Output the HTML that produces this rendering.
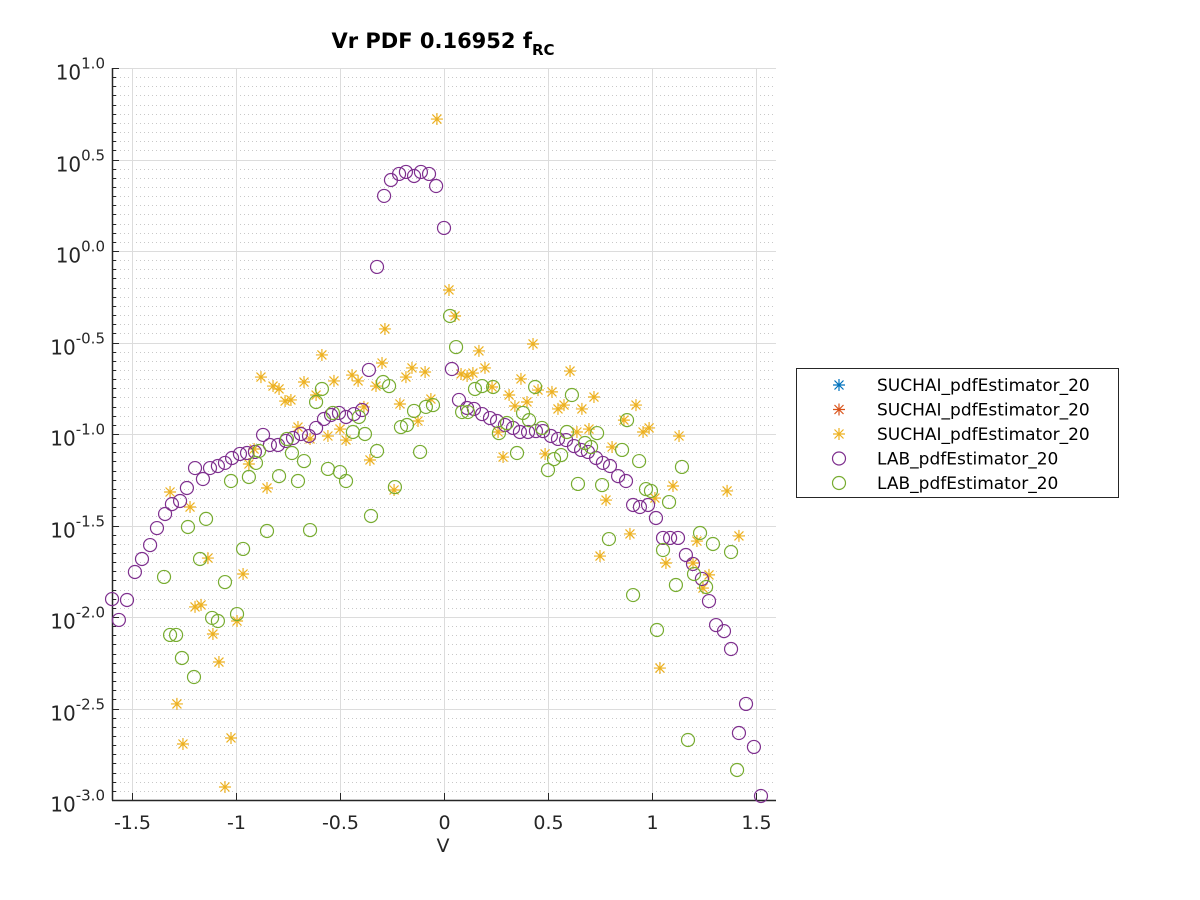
<!DOCTYPE html>
<html><head><meta charset="utf-8"><style>
html,body{margin:0;padding:0;background:#fff;}
svg{display:block;font-family:"DejaVu Sans","Liberation Sans",sans-serif;}
</style></head><body>
<svg id="chart" width="1200" height="900" viewBox="0 0 1200 900" xmlns="http://www.w3.org/2000/svg">
<rect x="0" y="0" width="1200" height="900" fill="#fff"/>
<g id="grid"></g>
<g id="axes"></g>
<g id="marks"></g>
<text x="443" y="48" text-anchor="middle" font-weight="bold" font-size="21" fill="#000">Vr PDF 0.16952 f<tspan dy="7" font-size="15">RC</tspan></text>
<text x="443" y="852" text-anchor="middle" font-size="19" fill="#262626">V</text>
<g>
<rect x="796.5" y="368.5" width="322" height="129" fill="#fff" stroke="#262626" stroke-width="1"/>
<g id="legend-items"></g>
</g>
</svg>
<script>
// ---- data ----
const xTicks = [-1.5, -1, -0.5, 0, 0.5, 1, 1.5];
const xTickLabels = ["-1.5", "-1", "-0.5", "0", "0.5", "1", "1.5"];
const yTicksLog = [1, 0.5, 0, -0.5, -1, -1.5, -2, -2.5, -3];
const yTickLabels = ["1.0", "0.5", "0.0", "-0.5", "-1.0", "-1.5", "-2.0", "-2.5", "-3.0"];
const legendLabels = ["SUCHAI_pdfEstimator_20","SUCHAI_pdfEstimator_20","SUCHAI_pdfEstimator_20","LAB_pdfEstimator_20","LAB_pdfEstimator_20"];

const purpleX = [-1.596,-1.563,-1.524,-1.486,-1.452,-1.413,-1.380,-1.341,-1.308,-1.269,-1.236,-1.197,-1.159,-1.125,-1.087,-1.053,-1.019,-0.981,-0.947,-0.909,-0.870,-0.837,-0.798,-0.760,-0.726,-0.688,-0.649,-0.615,-0.577,-0.543,-0.505,-0.471,-0.433,-0.394,-0.361,-0.322,-0.288,-0.255,-0.216,-0.183,-0.144,-0.111,-0.072,-0.038,0,0.038,0.072,0.111,0.144,0.183,0.221,0.255,0.293,0.332,0.365,0.404,0.442,0.476,0.514,0.548,0.587,0.625,0.659,0.692,0.731,0.764,0.798,0.837,0.875,0.909,0.942,0.981,1.019,1.053,1.087,1.125,1.163,1.197,1.240,1.274,1.308,1.346,1.380,1.418,1.452,1.490,1.524];
const purpleLogY = [-1.902,-2.016,-1.907,-1.754,-1.683,-1.607,-1.514,-1.437,-1.383,-1.366,-1.295,-1.186,-1.246,-1.186,-1.175,-1.158,-1.131,-1.109,-1.104,-1.098,-1.005,-1.060,-1.060,-1.038,-1.022,-1.000,-1.011,-0.967,-0.918,-0.896,-0.885,-0.907,-0.891,-0.869,-0.650,-0.087,0.301,0.388,0.421,0.432,0.410,0.432,0.421,0.355,0.126,-0.645,-0.814,-0.858,-0.863,-0.891,-0.913,-0.929,-0.951,-0.967,-0.989,-0.989,-0.984,-0.984,-1.011,-1.027,-1.033,-1.066,-1.087,-1.098,-1.131,-1.158,-1.175,-1.230,-1.257,-1.388,-1.399,-1.388,-1.459,-1.568,-1.568,-1.568,-1.661,-1.710,-1.792,-1.913,-2.044,-2.077,-2.175,-2.634,-2.475,-2.710,-2.978];

const greenX = [-1.346,-1.317,-1.288,-1.260,-1.231,-1.202,-1.173,-1.144,-1.115,-1.087,-1.053,-1.024,-0.995,-0.966,-0.938,-0.904,-0.889,-0.851,-0.793,-0.755,-0.731,-0.702,-0.673,-0.644,-0.615,-0.587,-0.558,-0.534,-0.500,-0.471,-0.438,-0.409,-0.380,-0.351,-0.322,-0.293,-0.264,-0.236,-0.207,-0.178,-0.144,-0.115,-0.087,-0.053,0.029,0.058,0.087,0.115,0.149,0.183,0.236,0.264,0.303,0.351,0.380,0.409,0.438,0.471,0.500,0.529,0.563,0.591,0.615,0.644,0.678,0.707,0.736,0.760,0.793,0.856,0.880,0.909,0.938,0.971,0.995,1.024,1.053,1.082,1.115,1.144,1.173,1.202,1.231,1.260,1.293,1.380,1.409];
const greenLogY = [-1.781,-2.098,-2.098,-2.224,-1.508,-2.328,-1.683,-1.464,-2.005,-2.022,-1.809,-1.257,-1.984,-1.628,-1.235,-1.158,-1.093,-1.530,-1.230,-1.027,-1.104,-1.257,-1.148,-1.525,-0.825,-0.754,-1.191,-0.885,-1.208,-1.257,-0.989,-0.907,-1.000,-1.448,-1.093,-0.716,-0.738,-1.290,-0.962,-0.951,-0.874,-1.098,-0.852,-0.842,-0.355,-0.525,-0.880,-0.880,-0.754,-0.738,-0.743,-0.995,-0.940,-1.104,-0.885,-0.924,-0.743,-0.967,-1.197,-1.137,-1.115,-0.989,-0.787,-1.273,-1.049,-1.071,-0.995,-1.279,-1.574,-1.087,-0.924,-1.880,-1.148,-1.301,-1.311,-2.071,-1.634,-1.372,-1.825,-1.180,-2.672,-1.765,-1.541,-1.836,-1.601,-1.645,-2.836];

const yellowX = [-0.034,0.024,0.053,-0.284,-0.587,0.428,0.168,0.197,0.606,0.082,0.139,0.111,0.370,0.231,0.313,0.452,0.519,0.721,0.341,0.399,0.548,0.577,0.663,0.923,0.865,0.957,0.986,1.130,0.639,0.697,0.260,0.284,0.486,0.808,0.779,0.894,1.014,1.101,1.361,1.418,1.216,0.750,1.067,1.197,1.274,1.245,1.038,-0.880,-0.822,-0.793,-0.673,-0.764,-0.736,-0.615,-0.529,-0.442,-0.413,-0.298,-0.327,-0.154,-0.183,-0.091,-0.063,-0.212,-0.385,-0.702,-0.644,-0.558,-0.500,-0.471,-0.125,-0.356,-0.913,-0.938,-0.851,-1.317,-1.221,-0.240,-1.135,-0.966,-1.197,-1.168,-0.995,-1.111,-1.082,-1.284,-1.255,-1.024,-1.053];
const yellowLogY = [0.721,-0.213,-0.355,-0.426,-0.568,-0.508,-0.546,-0.639,-0.656,-0.672,-0.667,-0.683,-0.699,-0.743,-0.787,-0.760,-0.770,-0.798,-0.847,-0.825,-0.863,-0.842,-0.863,-0.842,-0.924,-0.989,-0.967,-1.011,-0.989,-0.973,-0.989,-1.126,-1.109,-1.071,-1.361,-1.546,-1.350,-1.284,-1.311,-1.557,-1.585,-1.667,-1.705,-1.705,-1.770,-1.842,-2.279,-0.689,-0.738,-0.754,-0.716,-0.820,-0.814,-0.787,-0.710,-0.678,-0.710,-0.612,-0.738,-0.639,-0.689,-0.661,-0.809,-0.836,-0.852,-0.962,-1.027,-1.011,-0.973,-1.033,-0.929,-1.142,-1.082,-1.164,-1.295,-1.317,-1.399,-1.306,-1.678,-1.765,-1.945,-1.934,-2.022,-2.093,-2.246,-2.475,-2.694,-2.661,-2.929];

// ---- axis functions ----
const L = 112, R = 776, T = 68, B = 800;
const xMin = -1.6, xMax = 1.6, yMin = -3, yMax = 1;
function xs(v){ return 444 + v * 208; }
function ys(lg){ return B - (lg - yMin) / (yMax - yMin) * (B - T); }

const NS = "http://www.w3.org/2000/svg";
function mk(tag, parent){ const e = document.createElementNS(NS, tag); parent.appendChild(e); return e; }
const grid = document.getElementById('grid');
const axes = document.getElementById('axes');
const marks = document.getElementById('marks');

for (let k = 0; k <= 80; k++) {
  const lg = yMin + k * 0.05;
  if (k % 10 === 0) continue;
  const y = Math.round(ys(lg)) + 0.5;
  const l = mk('line', grid);
  
  
  l.setAttribute('x1', L); l.setAttribute('x2', R); l.setAttribute('y1', y); l.setAttribute('y2', y);
  l.setAttribute('stroke', '#c8c8c8'); l.setAttribute('stroke-width', '1'); l.setAttribute('stroke-dasharray', '1 3');
  const t = mk('line', axes);
  
  
  t.setAttribute('x1', L); t.setAttribute('x2', L + 4); t.setAttribute('y1', y); t.setAttribute('y2', y);
  t.setAttribute('stroke', '#262626'); t.setAttribute('stroke-width', '1');
}
yTicksLog.forEach((lg, i) => {
  const y = Math.round(ys(lg)) + 0.5;
  const l = mk('line', grid);
  
  
  l.setAttribute('x1', L); l.setAttribute('x2', R); l.setAttribute('y1', y); l.setAttribute('y2', y);
  l.setAttribute('stroke', '#dcdcdc'); l.setAttribute('stroke-width', '1');
  const t = mk('line', axes);
  
  
  t.setAttribute('x1', L); t.setAttribute('x2', L + 7); t.setAttribute('y1', y); t.setAttribute('y2', y);
  t.setAttribute('stroke', '#262626'); t.setAttribute('stroke-width', '1');
  const tx = mk('text', axes);
  
  
  tx.setAttribute('x', 105); tx.setAttribute('y', y + 11);
  tx.setAttribute('text-anchor', 'end'); tx.setAttribute('fill', '#262626'); tx.setAttribute('font-size', '20');
  tx.innerHTML = '10<tspan dy="-11" font-size="15">' + yTickLabels[i] + '</tspan>';
});
xTicks.forEach((v, i) => {
  const x = Math.round(xs(v)) + 0.5;
  const l = mk('line', grid);
  
  
  l.setAttribute('x1', x); l.setAttribute('x2', x); l.setAttribute('y1', T); l.setAttribute('y2', B);
  l.setAttribute('stroke', '#dcdcdc'); l.setAttribute('stroke-width', '1');
  const t = mk('line', axes);
  
  
  t.setAttribute('x1', x); t.setAttribute('x2', x); t.setAttribute('y1', B); t.setAttribute('y2', B - 7);
  t.setAttribute('stroke', '#262626'); t.setAttribute('stroke-width', '1');
  const tx = mk('text', axes);
  
  
  tx.setAttribute('x', x); tx.setAttribute('y', 829);
  tx.setAttribute('text-anchor', 'middle'); tx.setAttribute('fill', '#262626'); tx.setAttribute('font-size', '19');
  tx.textContent = xTickLabels[i];
});
const ax1 = mk('line', axes);


ax1.setAttribute('x1', L + 0.5); ax1.setAttribute('x2', L + 0.5); ax1.setAttribute('y1', T); ax1.setAttribute('y2', B + 0.5);
ax1.setAttribute('stroke', '#262626'); ax1.setAttribute('stroke-width', '1.5');
const ax2 = mk('line', axes);


ax2.setAttribute('x1', L); ax2.setAttribute('x2', R); ax2.setAttribute('y1', B + 0.5); ax2.setAttribute('y2', B + 0.5);
ax2.setAttribute('stroke', '#262626'); ax2.setAttribute('stroke-width', '1.5');

function star(parent, cx, cy, color, name) {
  const g = mk('path', parent);
  
  
  const r = 6, d = 4.5;
  g.setAttribute('d', `M${cx-r},${cy}H${cx+r}M${cx},${cy-r}V${cy+r}M${cx-d},${cy-d}L${cx+d},${cy+d}M${cx-d},${cy+d}L${cx+d},${cy-d}`);
  g.setAttribute('stroke', color); g.setAttribute('stroke-width', '1.2'); g.setAttribute('fill', 'none');
}
function circ(parent, cx, cy, color, name) {
  const c = mk('circle', parent);
  
  
  c.setAttribute('cx', cx); c.setAttribute('cy', cy); c.setAttribute('r', 6.5);
  c.setAttribute('stroke', color); c.setAttribute('stroke-width', '1.2'); c.setAttribute('fill', 'none');
}
const PURPLE = '#7E2F8E', GREEN = '#77AC30', YELLOW = '#EDB120', BLUE = '#0072BD', ORANGE = '#D95319';

yellowX.forEach((v, i) => star(marks, xs(v), ys(yellowLogY[i]), YELLOW, 'suchai-point'));
purpleX.forEach((v, i) => circ(marks, xs(v), ys(purpleLogY[i]), PURPLE, 'lab-purple-point'));
greenX.forEach((v, i) => circ(marks, xs(v), ys(greenLogY[i]), GREEN, 'lab-green-point'));

const li = document.getElementById('legend-items');
const legColors = [BLUE, ORANGE, YELLOW, PURPLE, GREEN];
legendLabels.forEach((lab, i) => {
  const y = 385 + i * 24.5;
  if (i < 3) star(li, 839, y, legColors[i], 'legend-marker');
  else circ(li, 839, y, legColors[i], 'legend-marker');
  const t = mk('text', li);
  
  
  t.setAttribute('x', 877); t.setAttribute('y', y + 6);
  t.setAttribute('font-size', '17'); t.setAttribute('fill', '#000');
  t.textContent = lab;
});
</script>
</body></html>
